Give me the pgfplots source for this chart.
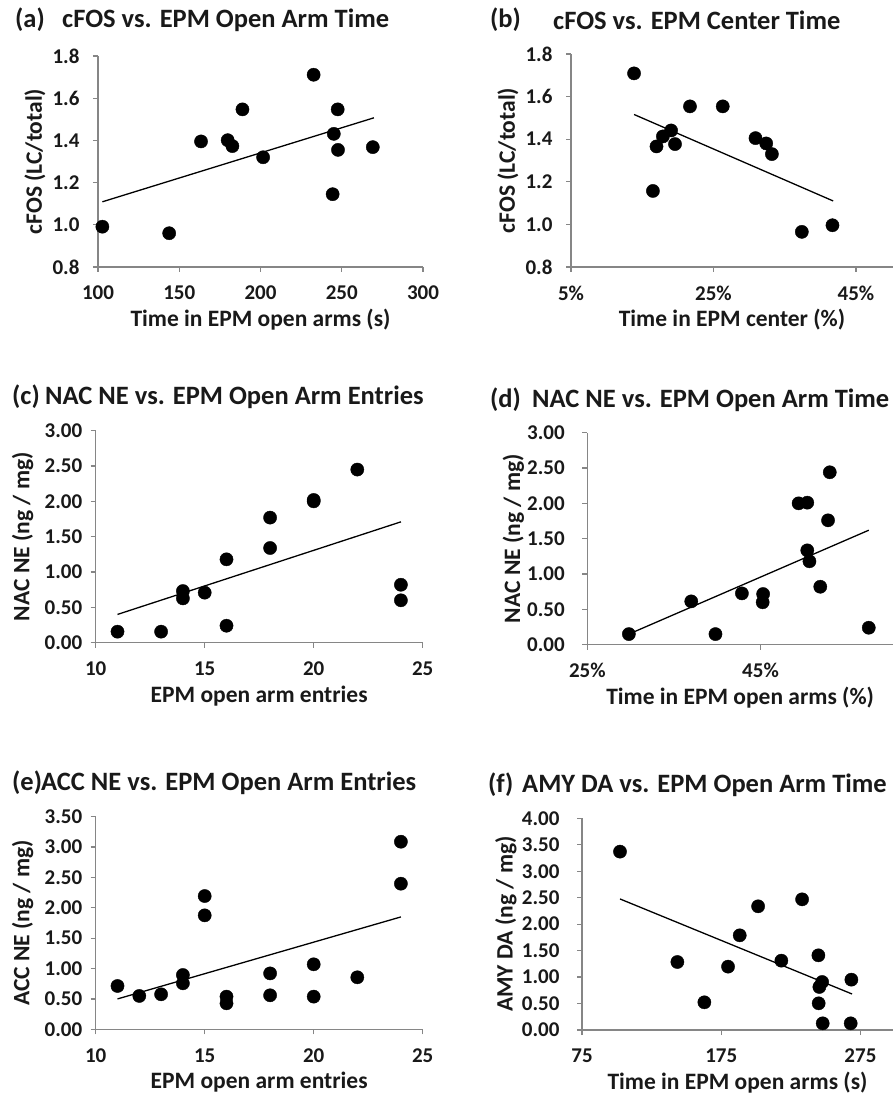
\documentclass[border=0pt]{standalone}
\usepackage{pgfplots}
\pgfplotsset{compat=1.18}
\usepackage{fontspec}
\setmainfont{Carlito}
\definecolor{axgray}{RGB}{134,134,134}
\definecolor{txt}{RGB}{25,25,25}

\pgfplotsset{
  panel/.style={
    scale only axis,
    axis lines=left,
    axis line style={-, draw=axgray, line width=1.2pt},
    every tick/.style={draw=axgray, line width=1.2pt},
    tick align=outside, major tick length=5pt,
    enlargelimits=false, clip=false,
    /pgf/number format/assume math mode=true,
    ticklabel style={font=\bfseries\fontsize{21}{21}\selectfont, text=txt},
    label style={font=\bfseries\fontsize{23.5}{23.5}\selectfont, text=txt},
    xticklabel style={anchor=center, yshift=-21pt},
    yticklabel style={anchor=east},
    xlabel style={at={(axis description cs:0.5,0)}, anchor=center, yshift=-53pt},
  },
  ylab/.style={ylabel style={at={([xshift=-#1]axis description cs:0,0.5)}, anchor=center}},
  dots/.style={only marks, mark=*, mark size=6.6pt, mark options={fill=black, draw=black}},
  trend/.style={no marks, black, line width=1.3pt},
  f1/.style={yticklabel style={/pgf/number format/fixed, /pgf/number format/fixed zerofill, /pgf/number format/precision=1}},
  f2/.style={yticklabel style={/pgf/number format/fixed, /pgf/number format/fixed zerofill, /pgf/number format/precision=2}},
}
\newcommand{\ttl}{\bfseries\fontsize{26.5}{26.5}\selectfont\color{txt}}

\begin{document}
\begin{tikzpicture}
\path[use as bounding box] (0,0) rectangle (893pt,1095pt);

% (a)
\node[anchor=west, inner sep=0] at (15pt,1075pt) {\ttl (a)};
\node[anchor=west, inner sep=0] at (62pt,1075pt) {\ttl cFOS vs. EPM Open Arm Time};
\begin{axis}[panel, f1, ylab=63pt, at={(98pt,828pt)}, anchor=south west, width=325pt, height=211pt,
  xmin=100, xmax=300, ymin=0.8, ymax=1.8, xtick={100,150,...,300}, ytick={0.8,1.0,...,1.8},
  yticklabel style={xshift=-10pt},
  xlabel={Time in EPM open arms (s)}, ylabel={cFOS (LC/total)}]
\addplot[dots] coordinates {
 (102.7,0.991) (143.8,0.960) (163.4,1.395) (179.8,1.401) (182.7,1.373) (188.9,1.547)
 (201.6,1.320) (232.7,1.711) (247.5,1.547) (245.1,1.431) (247.7,1.355) (244.4,1.145) (269.1,1.368)};
\addplot[trend] coordinates {(102.7,1.109) (269.8,1.507)};
\end{axis}

% (b)
\node[anchor=west, inner sep=0] at (490pt,1075pt) {\ttl (b)};
\node[anchor=west, inner sep=0] at (553pt,1075pt) {\ttl cFOS vs. EPM Center Time};
\begin{axis}[panel, f1, ylab=63pt, at={(571pt,828pt)}, anchor=south west, width=322pt, height=213pt,
  xmin=5, xmax=50.2, ymin=0.8, ymax=1.8, xtick={5,25,45}, xticklabels={5\%,25\%,45\%},
  ytick={0.8,1.0,...,1.8},
  yticklabel style={xshift=-10pt},
  xlabel={Time in EPM center (\%)}, ylabel={cFOS (LC/total)}]
\addplot[dots] coordinates {
 (13.85,1.709) (21.7,1.554) (26.3,1.554) (17.0,1.366) (17.9,1.413) (19.05,1.441) (19.6,1.377)
 (16.5,1.157) (30.9,1.405) (32.4,1.380) (33.2,1.330) (37.4,0.965) (41.7,0.996)};
\addplot[trend] coordinates {(13.85,1.516) (41.8,1.110)};
\end{axis}

% (c)
\node[anchor=west, inner sep=0] at (12pt,698pt) {\ttl (c)};
\node[anchor=west, inner sep=0] at (45pt,698pt) {\ttl NAC NE vs. EPM Open Arm Entries};
\begin{axis}[panel, f2, ylab=73pt, at={(95.7pt,452.3pt)}, anchor=south west, width=327pt, height=212pt,
  xmin=10, xmax=25, ymin=0, ymax=3, xtick={10,15,20,25}, ytick={0,0.5,...,3},
  yticklabel style={xshift=-5pt},
  xlabel={EPM open arm entries}, ylabel={NAC NE (ng / mg)}]
\addplot[dots] coordinates {
 (11,0.156) (13,0.156) (14,0.731) (14,0.627) (15,0.708) (16,1.18) (16,0.24)
 (18,1.77) (18,1.34) (20,2.00) (20,2.02) (22,2.45) (24,0.82) (24,0.60)};
\addplot[trend] coordinates {(11,0.40) (24,1.71)};
\end{axis}

% (d)
\node[anchor=west, inner sep=0] at (490pt,695pt) {\ttl (d)};
\node[anchor=west, inner sep=0] at (532pt,695pt) {\ttl NAC NE vs. EPM Open Arm Time};
\begin{axis}[panel, f2, ylab=74pt, at={(587.3pt,450.3pt)}, anchor=south west, width=305.7pt, height=212pt,
  xmin=25, xmax=60.3, ymin=0, ymax=3, xtick={25,45}, xticklabels={25\%,45\%},
  ytick={0,0.5,...,3},
  yticklabel style={xshift=-14pt},
  xlabel={Time in EPM open arms (\%)}, ylabel={NAC NE (ng / mg)}]
\addplot[dots] coordinates {
 (29.8,0.15) (37.0,0.613) (39.8,0.15) (42.85,0.726) (45.3,0.717) (45.25,0.60)
 (49.4,2.00) (50.4,2.01) (53.0,2.44) (52.8,1.76) (50.4,1.335) (50.65,1.18) (51.9,0.82) (57.5,0.24)};
\addplot[trend] coordinates {(29.8,0.15) (57.5,1.62)};
\end{axis}

% (e)
\node[anchor=west, inner sep=0] at (12pt,312pt) {\ttl (e)};
\node[anchor=west, inner sep=0] at (41pt,312pt) {\ttl ACC NE vs. EPM Open Arm Entries};
\begin{axis}[panel, f2, ylab=73pt, at={(95.7pt,65.7pt)}, anchor=south west, width=327pt, height=212.6pt,
  xmin=10, xmax=25, ymin=0, ymax=3.5, xtick={10,15,20,25}, ytick={0,0.5,...,3.5},
  yticklabel style={xshift=-5pt},
  xlabel={EPM open arm entries}, ylabel={ACC NE (ng / mg)}]
\addplot[dots] coordinates {
 (11,0.713) (12,0.549) (13,0.576) (14,0.894) (14,0.757) (15,2.194) (15,1.876)
 (16,0.538) (16,0.428) (18,0.92) (18,0.56) (20,1.07) (20,0.538) (22,0.856) (24,3.088) (24,2.397)};
\addplot[trend] coordinates {(11,0.50) (24,1.85)};
\end{axis}

% (f)
\node[anchor=west, inner sep=0] at (488pt,310pt) {\ttl (f)};
\node[anchor=west, inner sep=0] at (522pt,310pt) {\ttl AMY DA vs. EPM Open Arm Time};
\begin{axis}[panel, f2, ylab=76pt, at={(582pt,65pt)}, anchor=south west, width=311pt, height=211.7pt,
  xmin=75, xmax=298.4, ymin=0, ymax=4, xtick={75,175,275}, ytick={0,0.5,...,4},
  yticklabel style={xshift=-14pt},
  xlabel={Time in EPM open arms (s)}, ylabel={AMY DA (ng / mg)}]
\addplot[dots] coordinates {
 (102.3,3.37) (143.5,1.285) (162.9,0.523) (179.9,1.197) (188.3,1.789) (201.5,2.337)
 (218.2,1.31) (233.1,2.469) (244.8,1.411) (247.5,0.907) (245.5,0.813) (245.0,0.504)
 (247.9,0.126) (268.5,0.951) (268.0,0.126)};
\addplot[trend] coordinates {(102.3,2.476) (269,0.68)};
\end{axis}
\end{tikzpicture}
\end{document}
